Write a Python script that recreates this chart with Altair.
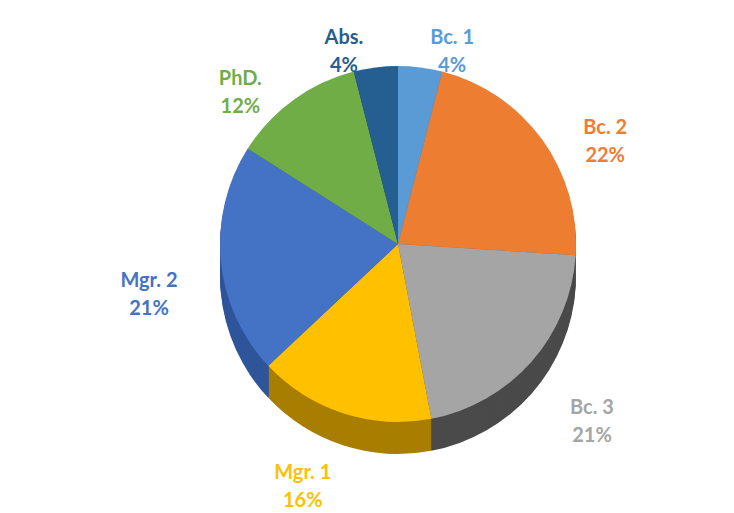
import altair as alt
import pandas as pd

categories = ["Bc. 1", "Bc. 2", "Bc. 3", "Mgr. 1", "Mgr. 2", "PhD.", "Abs."]
percents = [4, 22, 21, 16, 21, 12, 4]
top_colors = ["#5B9BD5", "#ED7D31", "#A5A5A5", "#FFC000", "#4472C4", "#70AD47", "#255E91"]
side_colors = ["#3E75A8", "#A8561C", "#4A4A4A", "#A87E00", "#2F559A", "#4E7D30", "#1A446B"]
right_side = ["Bc. 1", "Bc. 2", "Bc. 3"]

df = pd.DataFrame({
    "cat": categories,
    "value": percents,
    "order": list(range(len(categories))),
    "top_col": top_colors,
    "side_col": side_colors,
})
df["label"] = df["cat"] + "\n" + df["value"].astype(str) + "%"
df["right"] = df["cat"].isin(right_side)

CX, CY, R, DEPTH = 390, 236, 178, 32

theta = alt.Theta("value:Q", stack=True)
order = alt.Order("order:Q")

base = alt.Chart(df)

layers = []
for d in range(DEPTH, 0, -2):
    layers.append(
        base.mark_arc(radius=R).encode(
            theta=theta, order=order,
            color=alt.Color("side_col:N", scale=None),
            x=alt.value(CX), y=alt.value(CY + d),
        )
    )

top = base.mark_arc(radius=R).encode(
    theta=theta, order=order,
    color=alt.Color("top_col:N", scale=None),
    x=alt.value(CX), y=alt.value(CY),
)


def label_layer(is_right, dx):
    return base.transform_stack(
        stack="value", groupby=[], as_=["v1", "v2"],
        sort=[alt.SortField("order", order="ascending")],
    ).transform_calculate(
        mid="(datum.v1 + datum.v2) / 2"
    ).transform_filter(
        alt.datum.right == is_right
    ).mark_text(
        radius=R + 46, fontSize=20, fontWeight="bold", font="Lato",
        lineBreak="\n", lineHeight=28, align="center", baseline="middle", dx=dx,
    ).encode(
        theta=alt.Theta("mid:Q", scale=alt.Scale(domain=[0, 100])),
        text="label:N",
        color=alt.Color("top_col:N", scale=None),
        x=alt.value(CX), y=alt.value(CY + DEPTH / 2),
    )


chart = alt.layer(
    *layers, top, label_layer(True, 26), label_layer(False, -26)
).resolve_scale(theta="independent").properties(
    width=718, height=497, padding=0
).configure_view(stroke=None)

chart.save("out.html", embed_options={"renderer": "svg", "actions": False})
